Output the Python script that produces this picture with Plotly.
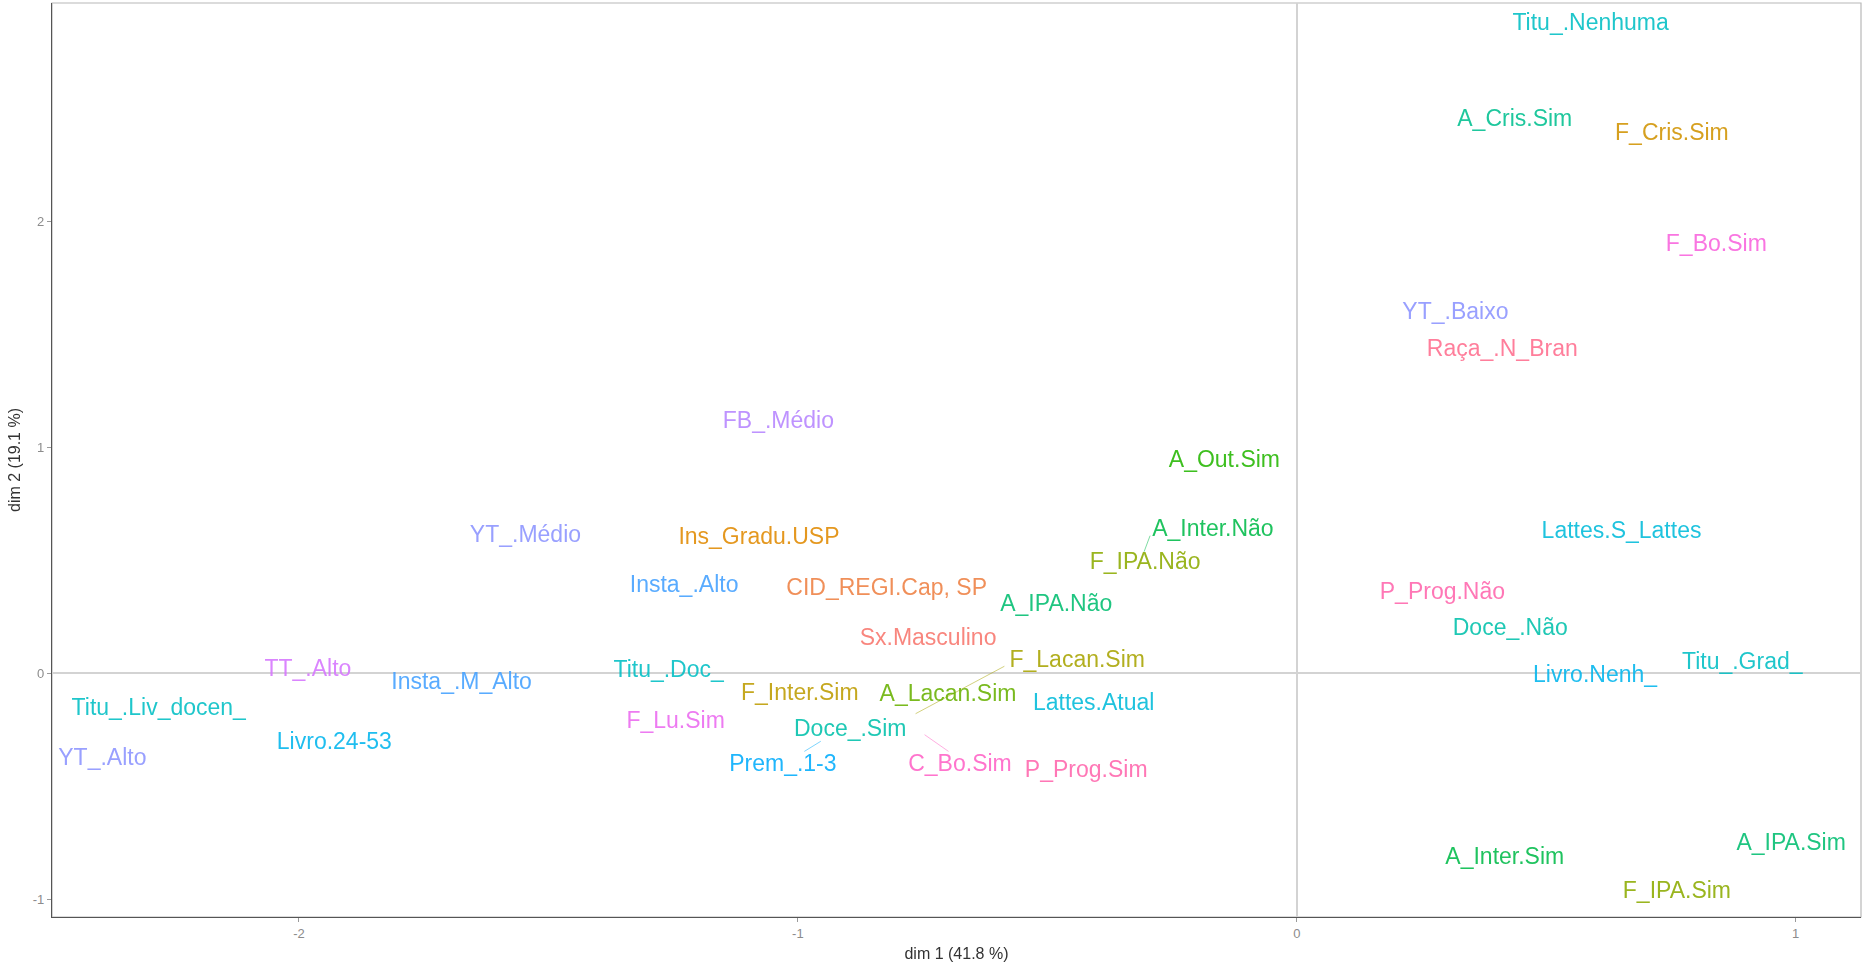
import math
import plotly.graph_objects as go

# Category coordinates on the first two MCA dimensions (label positions)
labels = [
    "Titu_.Nenhuma", "A_Cris.Sim", "F_Cris.Sim", "F_Bo.Sim", "YT_.Baixo",
    "Raça_.N_Bran", "FB_.Médio", "A_Out.Sim", "A_Inter.Não", "Lattes.S_Lattes",
    "YT_.Médio", "Ins_Gradu.USP", "F_IPA.Não", "Insta_.Alto", "CID_REGI.Cap, SP",
    "P_Prog.Não", "A_IPA.Não", "Doce_.Não", "Sx.Masculino", "F_Lacan.Sim",
    "Titu_.Grad_", "TT_.Alto", "Titu_.Doc_", "Livro.Nenh_", "Insta_.M_Alto",
    "F_Inter.Sim", "A_Lacan.Sim", "Lattes.Atual", "Titu_.Liv_docen_", "F_Lu.Sim",
    "Doce_.Sim", "Livro.24-53", "YT_.Alto", "Prem_.1-3", "C_Bo.Sim",
    "P_Prog.Sim", "A_IPA.Sim", "A_Inter.Sim", "F_IPA.Sim",
]
dim1 = [
    0.589, 0.437, 0.752, 0.841, 0.318,
    0.412, -1.039, -0.145, -0.168, 0.651,
    -1.546, -1.078, -0.304, -1.228, -0.822,
    0.292, -0.482, 0.428, -0.739, -0.440,
    0.893, -1.982, -1.259, 0.598, -1.674,
    -0.996, -0.699, -0.407, -2.281, -1.245,
    -0.895, -1.929, -2.394, -1.030, -0.675,
    -0.422, 0.991, 0.417, 0.762,
]
dim2 = [
    2.871, 2.448, 2.387, 1.893, 1.595,
    1.432, 1.111, 0.938, 0.634, 0.624,
    0.606, 0.599, 0.485, 0.386, 0.370,
    0.352, 0.301, 0.197, 0.149, 0.053,
    0.046, 0.013, 0.008, -0.014, -0.046,
    -0.095, -0.099, -0.139, -0.158, -0.216,
    -0.254, -0.309, -0.379, -0.408, -0.408,
    -0.434, -0.759, -0.818, -0.970,
]

# Leader lines joining a repelled label to its category point
seg_labels = ["A_Inter.Não", "F_Lacan.Sim", "Prem_.1-3", "C_Bo.Sim"]
seg_x0 = [-0.294, -0.586, -0.954, -0.746]
seg_y0 = [0.609, 0.031, -0.301, -0.272]
seg_x1 = [-0.306, -0.764, -0.987, -0.698]
seg_y1 = [0.538, -0.179, -0.346, -0.346]

x_ticks = [-2, -1, 0, 1]
x_ticktext = ["-2", "-1", "0", "1"]
y_ticks = [-1, 0, 1, 2]
y_ticktext = ["-1", "0", "1", "2"]

# Variable order defines the hue assigned to each variable
variable_order = [
    "Sx", "CID_REGI", "Ins_Gradu", "F_Cris", "F_Inter", "F_Lacan", "F_IPA",
    "A_Lacan", "A_Out", "A_Inter", "A_IPA", "A_Cris", "Doce_", "Titu_",
    "Lattes", "Livro", "Prem_", "Insta_", "YT_", "FB_", "TT_", "F_Lu",
    "F_Bo", "C_Bo", "P_Prog", "Raça_",
]


def hcl_hex(h, c=100.0, l=65.0):
    """Polar CIE-Luv colour to sRGB hex (same as R's hcl())."""
    hr = math.radians(h)
    u, v = c * math.cos(hr), c * math.sin(hr)
    xn, yn, zn = 95.047, 100.0, 108.883
    den = xn + 15 * yn + 3 * zn
    un, vn = 4 * xn / den, 9 * yn / den
    y = yn * ((l + 16) / 116) ** 3
    up, vp = u / (13 * l) + un, v / (13 * l) + vn
    x = 9.0 * y * up / (4 * vp)
    z = -x / 3 - 5 * y + 3 * y / vp
    x, y, z = x / 100, y / 100, z / 100
    rgb = [
        3.240479 * x - 1.537150 * y - 0.498535 * z,
        -0.969256 * x + 1.875992 * y + 0.041556 * z,
        0.055648 * x - 0.204043 * y + 1.057311 * z,
    ]
    out = []
    for ch in rgb:
        ch = 12.92 * ch if ch <= 0.0031308 else 1.055 * ch ** (1 / 2.4) - 0.055
        out.append(int(round(min(max(ch, 0.0), 1.0) * 255)))
    return "#{:02X}{:02X}{:02X}".format(*out)


n_var = len(variable_order)
palette = {
    name: hcl_hex((15 + i * 360.0 / n_var) % 360)
    for i, name in enumerate(variable_order)
}


def colour_of(label):
    return palette[label.split(".", 1)[0]]


FONT = "Arial, 'Liberation Sans', sans-serif"

fig = go.Figure()

for lab, x0, y0, x1, y1 in zip(seg_labels, seg_x0, seg_y0, seg_x1, seg_y1):
    fig.add_trace(go.Scatter(
        x=[x0, x1], y=[y0, y1], mode="lines",
        line=dict(color=colour_of(lab), width=1),
        opacity=0.5, hoverinfo="skip", showlegend=False,
    ))

fig.add_trace(go.Scatter(
    x=dim1, y=dim2, text=labels, mode="text",
    textposition="middle center",
    textfont=dict(family=FONT, size=23, color=[colour_of(s) for s in labels]),
    opacity=0.88, hoverinfo="text", showlegend=False,
))

# light panel frame
fig.add_shape(type="rect", xref="paper", yref="paper", x0=0, y0=0, x1=1, y1=1,
              line=dict(color="#B8B8B8", width=1.2), fillcolor="rgba(0,0,0,0)",
              layer="below")

axis_common = dict(
    showgrid=False, zeroline=True, zerolinecolor="#D3D3D3", zerolinewidth=1.6,
    showline=True, linecolor="#555555", linewidth=1.4,
    ticks="outside", ticklen=4, tickwidth=1, tickcolor="#9A9A9A",
    tickfont=dict(family=FONT, size=13, color="#8C8C8C"),
)

fig.update_layout(
    width=1863, height=965,
    margin=dict(l=52, r=2, t=3, b=48),
    paper_bgcolor="white", plot_bgcolor="white",
    xaxis=dict(
        range=[-2.495, 1.131], tickvals=x_ticks, ticktext=x_ticktext,
        title=dict(text="dim 1 (41.8 %)", standoff=8,
                   font=dict(family=FONT, size=16, color="#333333")),
        **axis_common,
    ),
    yaxis=dict(
        range=[-1.079, 2.967], tickvals=y_ticks, ticktext=y_ticktext,
        title=dict(text="dim 2 (19.1 %)", standoff=8,
                   font=dict(family=FONT, size=16, color="#333333")),
        **axis_common,
    ),
)

fig.write_html("out.html")
